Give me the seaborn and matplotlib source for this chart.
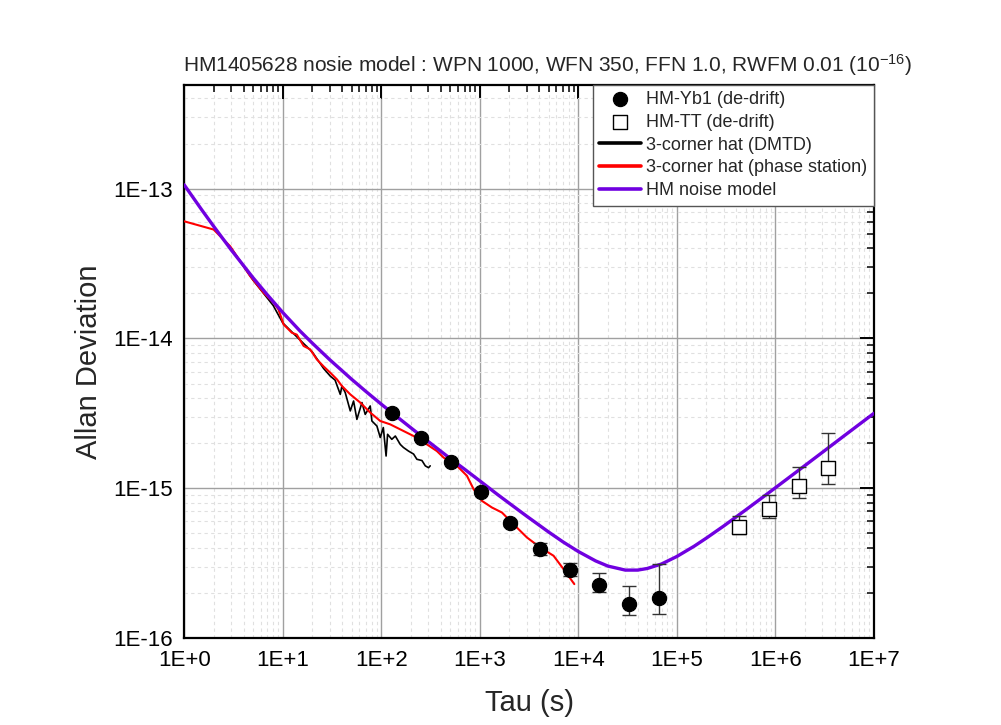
import numpy as np
import pandas as pd
import seaborn as sns
import matplotlib.pyplot as plt
import matplotlib.ticker as mtick

# HM noise model
model_tau = [1, 1.5, 2, 3, 5, 7, 10, 15, 20, 30, 50, 70, 100, 150, 200, 300, 500, 700,
             1000, 1500, 2000, 3000, 5000, 7000, 1e4, 1.5e4, 2e4, 3e4, 4e4, 5e4, 7e4,
             1e5, 1.5e5, 2e5, 3e5, 5e5, 7e5, 1e6, 2e6, 3e6, 5e6, 1e7]
model_adev = [1.06e-13, 7.25e-14, 5.58e-14, 3.90e-14, 2.54e-14, 1.95e-14, 1.49e-14, 1.12e-14,
              9.29e-15, 7.21e-15, 5.34e-15, 4.42e-15, 3.64e-15, 2.94e-15, 2.53e-15, 2.05e-15,
              1.58e-15, 1.34e-15, 1.12e-15, 9.12e-16, 7.92e-16, 6.50e-16, 5.10e-16, 4.38e-16,
              3.78e-16, 3.27e-16, 3.02e-16, 2.84e-16, 2.84e-16, 2.91e-16, 3.12e-16,
              3.50e-16, 4.10e-16, 4.65e-16, 5.60e-16, 7.16e-16, 8.44e-16, 1.006e-15,
              1.418e-15, 1.735e-15, 2.24e-15, 3.16e-15]

# 3-corner hat (phase station)
ps_tau = [1, 1.99, 2.93, 4.68, 6.38, 8.07, 9.06, 10.2, 12.4, 13.9, 16.3, 19, 22.2, 26, 30.4,
          35.5, 39.9, 48.5, 61.2, 77.3, 97.7, 123, 156, 213, 291, 367, 430, 587, 741, 866,
          1052, 1330, 1680, 2200, 3010, 4110, 5610, 7090, 9110]
ps_adev = [6.05e-14, 5.33e-14, 4.12e-14, 2.6e-14, 2.02e-14, 1.73e-14, 1.56e-14, 1.24e-14,
           1.09e-14, 1.06e-14, 8.9e-15, 8.45e-15, 7.24e-15, 6.5e-15, 5.9e-15, 5.33e-15,
           4.81e-15, 4.23e-15, 3.73e-15, 3.2e-15, 2.81e-15, 2.67e-15, 2.47e-15, 2.23e-15,
           1.96e-15, 1.77e-15, 1.6e-15, 1.41e-15, 1.21e-15, 9.85e-16, 8.23e-16, 7.43e-16,
           6.88e-16, 5.75e-16, 4.69e-16, 4.02e-16, 3.54e-16, 2.88e-16, 2.29e-16]

# 3-corner hat (DMTD)
dm_tau = [3, 5, 8, 10, 14, 20, 26, 30.4, 34, 38.4, 39.9, 43.1, 48.5, 52.4, 56.6, 63.7, 68.8,
          77.3, 80.4, 90.4, 97.7, 105, 112, 116, 128, 139, 156, 168, 189, 213, 230, 259,
          280, 302, 314]
dm_adev = [4.0e-14, 2.45e-14, 1.66e-14, 1.27e-14, 1.02e-14, 8.1e-15, 6.3e-15, 5.6e-15,
           5.27e-15, 4.23e-15, 4.81e-15, 4.35e-15, 3.28e-15, 3.82e-15, 2.88e-15, 3.73e-15,
           3.11e-15, 3.54e-15, 2.81e-15, 2.6e-15, 2.18e-15, 2.54e-15, 1.64e-15, 2.29e-15,
           2.12e-15, 2.23e-15, 1.96e-15, 1.87e-15, 1.77e-15, 1.69e-15, 1.56e-15, 1.53e-15,
           1.41e-15, 1.37e-15, 1.41e-15]

# HM-Yb1 (de-drift)
yb_tau = [128, 256, 512, 1024, 2048, 4096, 8192, 16384, 32768, 65536]
yb_adev = [3.2e-15, 2.18e-15, 1.50e-15, 9.45e-16, 5.84e-16, 3.92e-16, 2.84e-16, 2.26e-16,
           1.69e-16, 1.84e-16]
yb_lo = [3.1e-15, 2.1e-15, 1.45e-15, 9.1e-16, 5.6e-16, 3.6e-16, 2.58e-16, 2.02e-16,
         1.42e-16, 1.45e-16]
yb_hi = [3.3e-15, 2.26e-15, 1.55e-15, 9.8e-16, 6.1e-16, 4.3e-16, 3.19e-16, 2.71e-16,
         2.23e-16, 3.11e-16]

# HM-TT (de-drift)
tt_tau = [4.3e5, 8.6e5, 1.72e6, 3.44e6]
tt_adev = [5.52e-16, 7.31e-16, 1.03e-15, 1.37e-15]
tt_lo = [4.94e-16, 6.3e-16, 8.58e-16, 1.06e-15]
tt_hi = [6.48e-16, 9.0e-16, 1.39e-15, 2.35e-15]

x_decades = [0, 1, 2, 3, 4, 5, 6, 7]
y_decades = [-16, -15, -14, -13]

sns.set_style("white")
plt.rcParams['font.family'] = ['Liberation Sans', 'DejaVu Sans']
plt.rcParams['mathtext.fontset'] = 'custom'
plt.rcParams['mathtext.rm'] = 'Liberation Sans'
plt.rcParams['mathtext.default'] = 'regular'

fig, ax = plt.subplots(figsize=(10.01, 7.25), dpi=100)
fig.subplots_adjust(left=0.184, right=0.873, bottom=0.12, top=0.883)
ax.set_xscale('log')
ax.set_yscale('log')

sns.lineplot(x=dm_tau, y=dm_adev, ax=ax, color='black', lw=1.2, sort=False,
             estimator=None, label='3-corner hat (DMTD)', zorder=3)
sns.lineplot(x=ps_tau, y=ps_adev, ax=ax, color='#ff0000', lw=1.5, sort=False,
             estimator=None, label='3-corner hat (phase station)', zorder=3)
sns.lineplot(x=model_tau, y=model_adev, ax=ax, color='#7000e0', lw=2.4, sort=False,
             estimator=None, label='HM noise model', zorder=4)

yb = np.array(yb_adev)
tt = np.array(tt_adev)
ax.errorbar(yb_tau, yb, yerr=[yb - np.array(yb_lo), np.array(yb_hi) - yb], fmt='none',
            ecolor='#333333', elinewidth=1, capsize=5, capthick=1, zorder=5)
ax.errorbar(tt_tau, tt, yerr=[tt - np.array(tt_lo), np.array(tt_hi) - tt], fmt='none',
            ecolor='#333333', elinewidth=1, capsize=5, capthick=1, zorder=5)
sns.scatterplot(x=yb_tau, y=yb_adev, ax=ax, marker='o', s=105, color='black',
                edgecolor='black', label='HM-Yb1 (de-drift)', zorder=6)
sns.scatterplot(x=tt_tau, y=tt_adev, ax=ax, marker='s', s=90, facecolor='white',
                edgecolor='black', linewidth=1, label='HM-TT (de-drift)', zorder=6)

ax.set_xlim(1, 1e7)
ax.set_ylim(1e-16, 4.93e-13)

x_major = [10.0 ** d for d in x_decades]
y_major = [10.0 ** d for d in y_decades]
x_minor = [m * 10.0 ** d for d in x_decades[:-1] for m in range(2, 10)]
y_minor = [m * 10.0 ** d for d in y_decades + [-12] for m in range(2, 10) if m * 10.0 ** d < 4.9e-13]
ax.xaxis.set_major_locator(mtick.FixedLocator(x_major))
ax.xaxis.set_minor_locator(mtick.FixedLocator(x_minor))
ax.yaxis.set_major_locator(mtick.FixedLocator(y_major))
ax.yaxis.set_minor_locator(mtick.FixedLocator(y_minor))
ax.set_xticklabels([f"1E+{d}" for d in x_decades])
ax.set_yticklabels([f"1E{d}" for d in y_decades])
ax.xaxis.set_minor_formatter(mtick.NullFormatter())
ax.yaxis.set_minor_formatter(mtick.NullFormatter())

ax.tick_params(which='both', direction='in', top=True, right=True, colors='black')
ax.tick_params(which='major', length=10, width=1.4, labelsize=16, pad=8.5)
ax.tick_params(which='minor', length=5, width=1.1)

ax.grid(which='major', color='#a0a0a0', lw=1.0, ls='-')
ax.grid(which='minor', color='#e0e0e0', lw=0.8, ls=(0, (3, 3)))
ax.set_axisbelow(True)
for sp in ax.spines.values():
    sp.set_color('black')
    sp.set_linewidth(1.6)

ax.set_xlabel('Tau (s)', fontsize=21, labelpad=13)
ax.set_ylabel('Allan Deviation', fontsize=21, labelpad=7)

fig.text(0.547, 0.910,
         'HM1405628 nosie model : WPN 1000, WFN 350, FFN 1.0, RWFM 0.01 (10$^{-16}$)',
         ha='center', va='center', fontsize=15)

handles, labels = ax.get_legend_handles_labels()
order = ['HM-Yb1 (de-drift)', 'HM-TT (de-drift)', '3-corner hat (DMTD)',
         '3-corner hat (phase station)', 'HM noise model']
hmap = dict(zip(labels, handles))
leg = ax.legend([hmap[k] for k in order], order, loc='upper right', borderaxespad=0,
                fontsize=13, frameon=True, fancybox=False, framealpha=1,
                edgecolor='#555555', handlelength=2.3, labelspacing=0.32,
                borderpad=0.35, handletextpad=0.3)
leg.get_frame().set_linewidth(1.0)
for ln in leg.get_lines():
    ln.set_linewidth(2.6)
leg.set_zorder(10)

fig.savefig('out.png', dpi=100)
